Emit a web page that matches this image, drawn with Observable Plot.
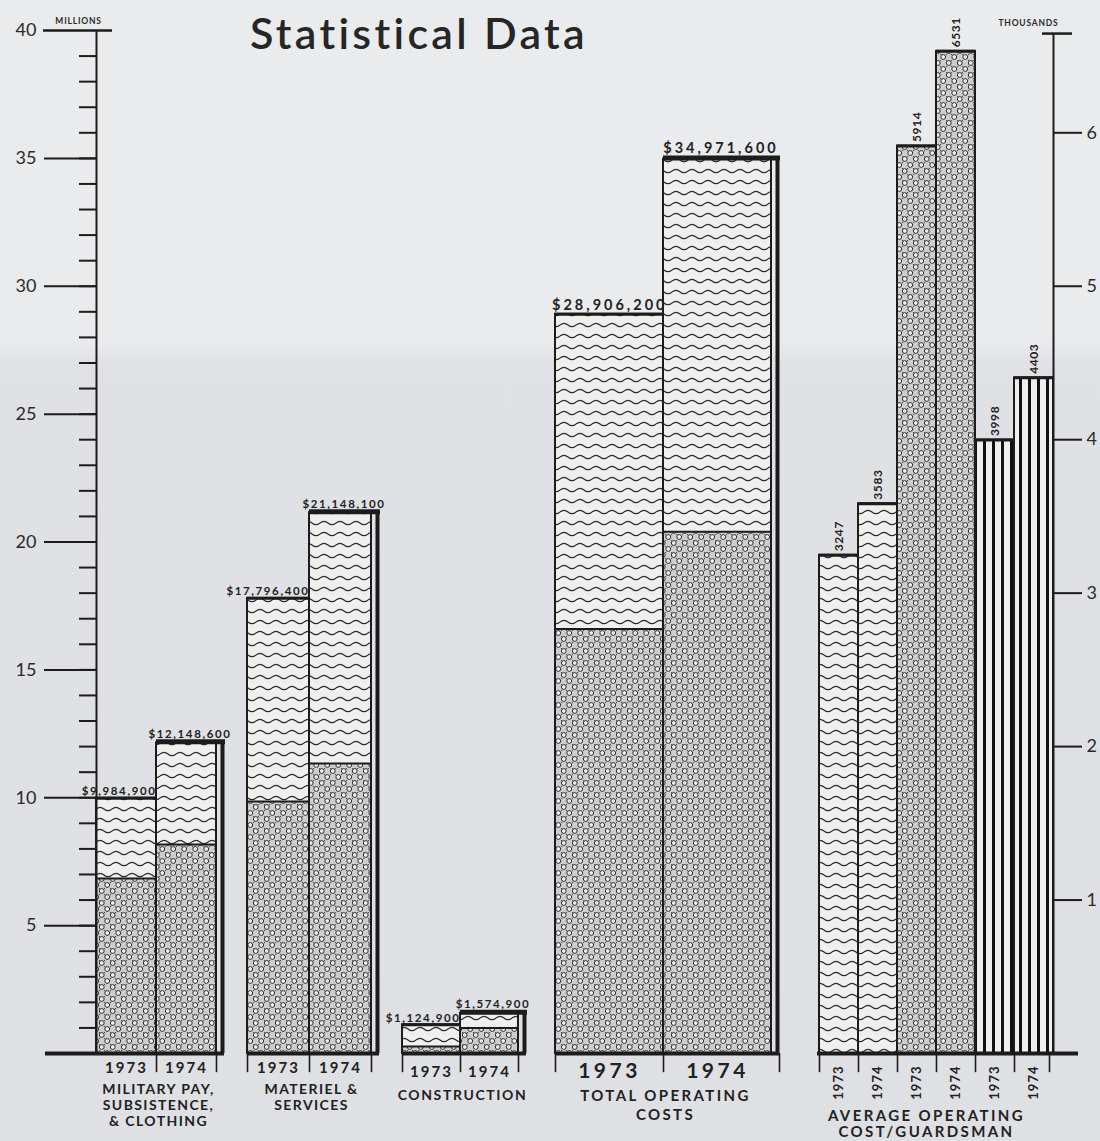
<!DOCTYPE html>
<html><head><meta charset="utf-8">
<script src="https://cdn.jsdelivr.net/npm/d3@7"></script>
<script src="https://cdn.jsdelivr.net/npm/@observablehq/plot@0.6"></script>
<style>
html,body{margin:0;padding:0;}
body{background:linear-gradient(#eaebed 0, #eaebed 340px, #e0e1e4 365px, #dfe0e3 100%);}
#wrap{position:relative;width:1100px;height:1141px;}
#title{position:absolute;left:250px;top:11px;margin:0;font:600 43px/43px Lato,sans-serif;color:#262626;letter-spacing:3.3px;z-index:2}
svg{position:absolute;left:0;top:0}
</style></head><body>
<div id="wrap"><h1 id="title">Statistical Data</h1></div>
<script>
// ---------- data ----------
const categories = ["MILITARY PAY,\nSUBSISTENCE,\n& CLOTHING", "MATERIEL &\nSERVICES", "CONSTRUCTION", "TOTAL OPERATING\nCOSTS"];
const years = ["1973", "1974"];
const totals1973 = [9984900, 17796400, 1124900, 28906200];
const totals1974 = [12148600, 21148100, 1574900, 34971600];
const lower1973 = [6840000, 9850000, 270000, 16600000];   // dotted (lower) portion
const lower1974 = [8170000, 11340000, 1000000, 20400000];
const avgCategory = "AVERAGE OPERATING\nCOST/GUARDSMAN";
const avgYears = ["1973", "1974", "1973", "1974", "1973", "1974"];
const avgCost = [3247, 3583, 5914, 6531, 3998, 4403];
const leftMajorTicks = [5, 10, 15, 20, 25, 30, 35];
const leftMinorTicks = d3.range(1, 40);
const rightTicks = [1, 2, 3, 4, 5, 6];
const leftUnit = "MILLIONS";
const rightUnit = "THOUSANDS";

// ---------- layout (styles / geometry, not data) ----------
const M = 1e6;
const RATIO = 6;          // 1 thousand on the right axis = 6 million on the left axis
const XMAX = 957;
const SHADOW = 7;
const layout = [
  {start: 0,   w: 60,  baseFrom: -51, yearDy: 15, yearSize: 15, yearLS: 2,   catDy: 29, catSize: 14, catLH: 1.15, catLS: 1.4},
  {start: 151, w: 62,  yearDy: 15, yearSize: 15, yearLS: 2,   catDy: 29, catSize: 14, catLH: 1.15, catLS: 1.4},
  {start: 306, w: 58,  yearDy: 19, yearSize: 15, yearLS: 2,   catDy: 35, catSize: 14, catLH: 1.15, catLS: 1.6},
  {start: 459, w: 108, yearDy: 18, yearSize: 21, yearLS: 3.5, catDy: 34, catSize: 15, catLH: 1.27, catLS: 2.4}
];
const avgLayout = {start: 723, w: 39, patterns: ["wave", "wave", "dots", "dots", "stripes", "stripes"]};
const fmt = d3.format("$,");

const bars = [];
categories.forEach((cat, i) => {
  const L = layout[i];
  [[totals1973[i], lower1973[i]], [totals1974[i], lower1974[i]]].forEach(([t, lo], j) => {
    bars.push({cat, i, j, year: years[j], x1: L.start + j * L.w, x2: L.start + (j + 1) * L.w,
      total: t / M, lower: lo / M, label: fmt(t)});
  });
});
const groups = categories.map((cat, i) => {
  const L = layout[i];
  return {cat, i, L, x1: L.start, x2: L.start + 2 * L.w, cx: L.start + L.w};
});
const avg = avgCost.map((v, k) => ({v, k, year: avgYears[k], pat: avgLayout.patterns[k],
  x1: avgLayout.start + k * avgLayout.w, x2: avgLayout.start + (k + 1) * avgLayout.w, y: v / 1000 * RATIO}));
const avgX1 = avgLayout.start, avgX2 = avgLayout.start + avgCost.length * avgLayout.w;

const ink = "#1c1c1c";
const spacing = {}; // ariaDescription -> letter-spacing (px)
const marks = [];
// bars
marks.push(
  Plot.rect(bars, {x1: "x1", x2: "x2", y1: 0, y2: "lower", fill: "url(#dots)"}),
  Plot.rect(bars, {x1: "x1", x2: "x2", y1: "lower", y2: "total", fill: "url(#wave)"}),
  Plot.rect(bars, {x1: "x1", x2: "x2", y1: 0, y2: "total", fill: "none", stroke: ink, strokeWidth: 2}),
  Plot.ruleY(bars, {y: "lower", x1: "x1", x2: "x2", stroke: ink, strokeWidth: 2}),
  Plot.ruleY(bars.filter(d => d.j === 0), {y: "total", x1: "x1", x2: "x2", stroke: ink, strokeWidth: 3}),
  Plot.ruleY(bars.filter(d => d.j === 1), {y: "total", x1: "x1", x2: d => d.x2 + SHADOW + 2, stroke: ink, strokeWidth: 5, dy: -1}),
  Plot.ruleX(bars.filter(d => d.j === 1), {x: d => d.x2 + SHADOW - 1, y1: 0, y2: "total", stroke: ink, strokeWidth: 4})
);
// average operating cost bars
for (const p of ["wave", "dots", "stripes"]) {
  marks.push(Plot.rect(avg.filter(d => d.pat === p), {x1: "x1", x2: "x2", y1: 0, y2: "y", fill: `url(#${p})`}));
}
marks.push(Plot.rect(avg, {x1: "x1", x2: "x2", y1: 0, y2: "y", fill: "none", stroke: ink, strokeWidth: 2}));
marks.push(Plot.ruleY(avg, {y: "y", x1: "x1", x2: "x2", stroke: ink, strokeWidth: 3}));

// baselines
marks.push(
  Plot.ruleY(groups, {y: 0, x1: d => d.L.baseFrom ?? d.x1, x2: d => d.x2 + SHADOW + 1, stroke: ink, strokeWidth: 4}),
  Plot.ruleY([0], {x1: avgX1 - 2, x2: XMAX + 25, stroke: ink, strokeWidth: 4})
);
// separator ticks below baseline
const sepTicks = [];
groups.forEach(g => { if (g.i > 0) sepTicks.push(g.x1); sepTicks.push(g.cx, g.x2 + (g.i === 3 ? SHADOW + 1 : 0)); });
avg.forEach(d => sepTicks.push(d.x1)); sepTicks.push(avgX2 - 4);
marks.push(Plot.ruleX(sepTicks, {x: d => d, y1: 0, y2: -0.75, stroke: ink, strokeWidth: 1.6}));

// axes
marks.push(
  Plot.ruleX([0], {y1: 0, y2: 40, stroke: ink, strokeWidth: 2}),
  Plot.axisY(leftMinorTicks, {anchor: "left", tickSize: 17, tickFormat: () => "", stroke: ink, strokeWidth: 2}),
  Plot.axisY(leftMajorTicks, {anchor: "left", tickSize: 52, tickPadding: 8, fontSize: 18, stroke: ink, strokeWidth: 2, fill: "#2a2a2a"}),
  Plot.ruleY([40], {x1: -53, x2: 16, stroke: ink, strokeWidth: 2.5}),
  Plot.text([40], {x: 0, y: d => d, text: d => String(d), dx: -60, textAnchor: "end", fontSize: 18, fill: "#2a2a2a"}),
  Plot.text([leftUnit], {x: 0, y: 40, dx: -18, dy: -9, text: d => d, fontSize: 8.5, fontWeight: 700, fill: "#2a2a2a", ariaDescription: "unit-left"}),
  Plot.ruleX([XMAX], {y1: 0, y2: 39.88, stroke: ink, strokeWidth: 2}),
  Plot.ruleY([39.88], {x1: XMAX - 11, x2: XMAX + 19, stroke: ink, strokeWidth: 2.5}),
  Plot.axisY(rightTicks.map(t => t * RATIO), {anchor: "right", tickSize: 28, tickPadding: 5, tickFormat: d => String(d / RATIO), fontSize: 18, stroke: ink, strokeWidth: 2, fill: "#2a2a2a"}),
  Plot.text([rightUnit], {x: XMAX, y: 39.88, dx: -25, dy: -10, text: d => d, fontSize: 8.5, fontWeight: 700, fill: "#2a2a2a", ariaDescription: "unit-right"})
);
spacing["unit-left"] = 0.8; spacing["unit-right"] = 0.8;

// value labels
const smallBars = bars.filter(d => d.i < 3), bigBars = bars.filter(d => d.i === 3);
marks.push(
  Plot.text(smallBars.filter(d => d.j === 0), {x: "x2", y: "total", text: "label", textAnchor: "end", lineAnchor: "bottom", dy: -3, fontSize: 11.5, fontWeight: 700, fill: "#222", ariaDescription: "val-small"}),
  Plot.text(smallBars.filter(d => d.j === 1), {x: d => (d.x1 + d.x2 + SHADOW) / 2, y: "total", text: "label", lineAnchor: "bottom", dy: -5, fontSize: 11.5, fontWeight: 700, fill: "#222", ariaDescription: "val-small"}),
  Plot.text(bigBars.filter(d => d.j === 0), {x: "x2", y: "total", text: "label", textAnchor: "end", lineAnchor: "bottom", dx: 4, dy: -4, fontSize: 14.5, fontWeight: 700, fill: "#222", ariaDescription: "val-big"}),
  Plot.text(bigBars.filter(d => d.j === 1), {x: d => (d.x1 + d.x2 + SHADOW) / 2, y: "total", text: "label", lineAnchor: "bottom", dy: -6, fontSize: 14.5, fontWeight: 700, fill: "#222", ariaDescription: "val-big"}),
  Plot.text(avg, {x: d => (d.x1 + d.x2) / 2, y: "y", text: d => String(d.v), rotate: -90, textAnchor: "start", dy: -4, fontSize: 12, fontWeight: 700, fill: "#222", ariaDescription: "val-avg"})
);
spacing["val-small"] = 1.6; spacing["val-big"] = 3; spacing["val-avg"] = 0.6;
// year labels + category labels
layout.forEach((L, i) => {
  marks.push(Plot.text(bars.filter(d => d.i === i), {x: d => (d.x1 + d.x2) / 2, y: 0, text: "year", dy: L.yearDy, fontSize: L.yearSize, fontWeight: 700, fill: "#222", ariaDescription: `year-${i}`}));
  marks.push(Plot.text(groups.filter(g => g.i === i), {x: d => d.cx + 2, y: 0, text: "cat", lineAnchor: "top", dy: L.catDy, fontSize: L.catSize, lineHeight: L.catLH, fontWeight: 700, fill: "#222", ariaDescription: `cat-${i}`}));
  spacing[`year-${i}`] = L.yearLS; spacing[`cat-${i}`] = L.catLS;
});
marks.push(
  Plot.text(avg, {x: d => (d.x1 + d.x2) / 2, y: 0, text: "year", rotate: -90, textAnchor: "end", dy: 12, fontSize: 13, fontWeight: 700, fill: "#222", ariaDescription: "year-avg"}),
  Plot.text([avgCategory], {x: (avgX1 + avgX2) / 2, y: 0, text: d => d, dx: -10, lineAnchor: "top", dy: 55, fontSize: 15, lineHeight: 1.13, fontWeight: 700, fill: "#222", ariaDescription: "cat-avg"})
);
spacing["year-avg"] = 1; spacing["cat-avg"] = 2.4;

const chart = Plot.plot({
  width: 1100, height: 1141,
  marginTop: 30, marginBottom: 88, marginLeft: 96, marginRight: 47,
  x: {domain: [0, XMAX], axis: null},
  y: {domain: [0, 40]},
  style: {background: "transparent", fontFamily: "Lato, 'Noto Sans', sans-serif", color: "#222", overflow: "visible"},
  marks
});

// letter spacing (not a Plot option): applied to the text groups via their aria-description
for (const [label, ls] of Object.entries(spacing)) {
  d3.select(chart).selectAll(`g[aria-description="${label}"]`).style("letter-spacing", ls + "px");
}

// fill patterns
const defs = d3.select(chart).insert("defs", ":first-child");
const wave = defs.append("pattern").attr("id", "wave").attr("patternUnits", "userSpaceOnUse").attr("width", 16).attr("height", 11);
wave.append("rect").attr("width", 16).attr("height", 11).attr("fill", "#efefee");
wave.append("path").attr("d", "M0 6 Q4 2.6 8 6 T16 6").attr("fill", "none").attr("stroke", "#2a2a2a").attr("stroke-width", 1.2);
const dots = defs.append("pattern").attr("id", "dots").attr("patternUnits", "userSpaceOnUse").attr("width", 11).attr("height", 12);
dots.append("rect").attr("width", 11).attr("height", 12).attr("fill", "#cdcdcd");
[[0.5, 0.5], [5.5, 6.5], [0.5, 6.5], [5.5, 0.5]].forEach(([cx, cy]) => dots.append("circle").attr("cx", cx).attr("cy", cy).attr("r", 0.7).attr("fill", "#555"));
[[2.75, 3], [8.25, 9]].forEach(([cx, cy]) => dots.append("circle").attr("cx", cx).attr("cy", cy).attr("r", 2.4).attr("fill", "#efefef").attr("stroke", "#2e2e2e").attr("stroke-width", 1));
const stripes = defs.append("pattern").attr("id", "stripes").attr("patternUnits", "userSpaceOnUse").attr("width", 9).attr("height", 10);
stripes.append("rect").attr("width", 9).attr("height", 10).attr("fill", "#eeeeee");
stripes.append("rect").attr("x", 2).attr("width", 3).attr("height", 10).attr("fill", "#111");

document.getElementById("wrap").appendChild(chart);
</script>
</body></html>
